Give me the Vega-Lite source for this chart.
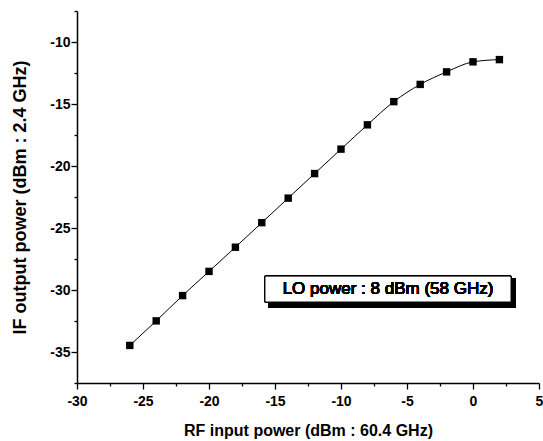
{
  "$schema": "https://vega.github.io/schema/vega-lite/v6.json",
  "autosize": {"type": "none"},
  "padding": {"left": 77, "top": 11, "right": 4, "bottom": 58},
  "width": 462,
  "height": 372,
  "background": "white",
  "config": {
    "view": {"stroke": null},
    "font": "Liberation Sans",
    "axis": {
      "domainColor": "black",
      "domainWidth": 1.5,
      "tickColor": "black",
      "tickWidth": 1.3,
      "grid": false,
      "labelColor": "black",
      "labelFont": "Liberation Sans",
      "labelFontWeight": "bold",
      "labelFontSize": 14,
      "titleColor": "black",
      "titleFont": "Liberation Sans",
      "titleFontWeight": "bold",
      "titleFontSize": 16
    }
  },
  "data": {
    "values": [
      {"rf_in": -26, "if_out": -34.47},
      {"rf_in": -24, "if_out": -32.49},
      {"rf_in": -22, "if_out": -30.45},
      {"rf_in": -20, "if_out": -28.5},
      {"rf_in": -18, "if_out": -26.55},
      {"rf_in": -16, "if_out": -24.57},
      {"rf_in": -14, "if_out": -22.59},
      {"rf_in": -12, "if_out": -20.61},
      {"rf_in": -10, "if_out": -18.64},
      {"rf_in": -8, "if_out": -16.68},
      {"rf_in": -6, "if_out": -14.81},
      {"rf_in": -4, "if_out": -13.42},
      {"rf_in": -2, "if_out": -12.41},
      {"rf_in": 0, "if_out": -11.6},
      {"rf_in": 2, "if_out": -11.42}
    ]
  },
  "encoding": {
    "x": {
      "field": "rf_in",
      "type": "quantitative",
      "scale": {"domain": [-30, 5], "nice": false, "zero": false},
      "axis": {
        "title": "RF input power (dBm : 60.4 GHz)",
        "values": [-30, -27.5, -25, -22.5, -20, -17.5, -15, -12.5, -10, -7.5, -5, -2.5, 0, 2.5, 5],
        "labelExpr": "datum.value % 5 === 0 ? '' + datum.value : ''",
        "tickSize": {"condition": {"test": "datum.value % 5 === 0", "value": 6}, "value": 3},
        "labelPadding": 5,
        "titlePadding": 14,
        "labelFlush": false,
        "labelOverlap": false
      }
    },
    "y": {
      "field": "if_out",
      "type": "quantitative",
      "scale": {"domain": [-37.5, -7.5], "nice": false, "zero": false},
      "axis": {
        "title": "IF output power (dBm : 2.4 GHz)",
        "titleFontSize": 18,
        "values": [-37.5, -35, -32.5, -30, -27.5, -25, -22.5, -20, -17.5, -15, -12.5, -10, -7.5],
        "labelExpr": "datum.value % 5 === 0 && datum.value > -37 ? '' + datum.value : ''",
        "tickSize": {"condition": {"test": "datum.value % 5 === 0", "value": 6}, "value": 3},
        "labelPadding": 1,
        "titlePadding": 20,
        "labelFlush": false,
        "labelOverlap": false
      }
    }
  },
  "layer": [
    {
      "mark": {"type": "line", "color": "black", "strokeWidth": 1, "interpolate": "monotone"}
    },
    {
      "mark": {"type": "point", "shape": "square", "filled": true, "color": "black", "size": 55, "opacity": 1}
    },
    {
      "mark": {"type": "rect", "color": "black"},
      "encoding": {
        "x": {"datum": -15.5},
        "x2": {"datum": 3.25},
        "y": {"datum": -29.1},
        "y2": {"datum": -31.45}
      }
    },
    {
      "mark": {"type": "rect", "fill": "white", "stroke": "black", "strokeWidth": 1},
      "encoding": {
        "x": {"datum": -15.76},
        "x2": {"datum": 2.88},
        "y": {"datum": -28.88},
        "y2": {"datum": -30.97}
      }
    },
    {
      "mark": {"type": "text", "fontSize": 17, "fontWeight": "normal", "color": "black", "font": "Liberation Sans", "align": "center", "baseline": "middle"},
      "encoding": {
        "x": {"datum": -6.44},
        "y": {"datum": -29.93},
        "text": {"value": "LO power : 8 dBm (58 GHz)"}
      }
    }
  ]
}
